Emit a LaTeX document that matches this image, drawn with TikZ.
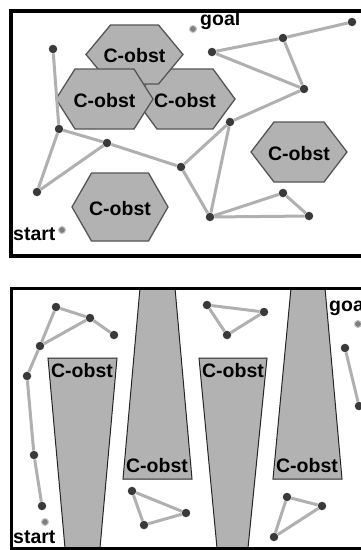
\documentclass[tikz,border=0pt]{standalone}
\usepackage{fontspec}
\setmainfont{Liberation Sans}
\definecolor{obgray}{HTML}{B2B2B2}
\definecolor{obline}{HTML}{555555}
\definecolor{edgegray}{HTML}{B0B0B0}
\definecolor{dotgray}{HTML}{3A3A3A}
\definecolor{sggray}{HTML}{7E7E7E}
\tikzset{
  frame/.style={draw=black, line width=3.5pt},
  obst/.style={fill=obgray, draw=obline, line width=1.3pt, line join=miter},
  trap/.style={fill=obgray, draw=black!85, line width=1pt},
  edge/.style={draw=edgegray, line width=3pt},
  dot/.style={circle, fill=dotgray, inner sep=0pt, minimum size=8.5pt},
  sgdot/.style={circle, fill=sggray, draw=gray!45, line width=1pt, inner sep=0pt, minimum size=7pt},
  lbl/.style={font=\fontsize{19.5}{20}\selectfont\bfseries, inner sep=0pt, text=black},
}
\newcommand{\hexobst}[6]{% cx cy halfw tophalf halfh name
  \draw[obst] (#1-#3,#2) -- (#1-#4,#2-#5) -- (#1+#4,#2-#5) -- (#1+#3,#2) -- (#1+#4,#2+#5) -- (#1-#4,#2+#5) -- cycle;
  \node[lbl, anchor=base] (#6) at (#1,#2+8) {C-obst};
}
\begin{document}
\begin{tikzpicture}[x=1pt, y=-1pt]
\useasboundingbox (0,0) rectangle (361,550);
\clip (0,0) rectangle (361,550);
\fill[white] (0,0) rectangle (361,550);

% ---------- top panel ----------
\hexobst{185}{99}{50}{28}{30}{h3}
\hexobst{134.5}{54.5}{48.5}{24}{29.5}{h1}
\hexobst{104.5}{99}{48.5}{29.5}{30}{h2}
\hexobst{299}{152}{48}{25}{30}{h4}
\hexobst{120}{207}{48}{28.5}{34}{h5}

\node[dot] (A) at (53,49) {};
\node[dot] (B) at (59,129) {};
\node[dot] (C) at (107,143) {};
\node[dot] (D) at (37,192) {};
\node[dot] (E) at (181,167) {};
\node[dot] (F) at (230,122) {};
\node[dot] (G) at (212,52) {};
\node[dot] (H) at (283,38) {};
\node[dot] (I) at (352,22) {};
\node[dot] (J) at (304,89) {};
\node[dot] (K) at (210,217) {};
\node[dot] (L) at (283,193) {};
\node[dot] (M) at (309,216) {};
\node[sgdot] (goal1) at (193,29) {};
\node[sgdot] (start1) at (62,230) {};
\node[lbl, anchor=base west] (goaltxt1) at (200,25) {goal};
\node[lbl, anchor=base west] (starttxt1) at (13,240) {start};

\draw[edge] (A) -- (B) (B) -- (C) (B) -- (D) (D) -- (C) (C) -- (E)
  (E) -- (F) (E) -- (K) (F) -- (K) (F) -- (J) (G) -- (J) (G) -- (H)
  (H) -- (J) (H) -- (I) (K) -- (L) (K) -- (M) (L) -- (M);

% ---------- bottom panel ----------
\draw[trap] (48,358) -- (117,358) -- (100,548) -- (65,548) -- cycle;
\draw[trap] (140,288) -- (175,288) -- (192,479) -- (123,479) -- cycle;
\draw[trap] (199,358) -- (267,358) -- (248,548) -- (217,548) -- cycle;
\draw[trap] (291,288) -- (325,288) -- (342,479) -- (273,479) -- cycle;
\node[lbl, anchor=base] (t1) at (82,377) {C-obst};
\node[lbl, anchor=base] (t2) at (157,472) {C-obst};
\node[lbl, anchor=base] (t3) at (233,377) {C-obst};
\node[lbl, anchor=base] (t4) at (307,472) {C-obst};

\node[dot] (p1) at (56,307) {};
\node[dot] (p2) at (90,318) {};
\node[dot] (p3) at (114,335) {};
\node[dot] (p4) at (40,346) {};
\node[dot] (p5) at (27,376) {};
\node[dot] (p6) at (34,455) {};
\node[dot] (p7) at (42,506) {};
\node[dot] (q1) at (207,305) {};
\node[dot] (q2) at (264,312) {};
\node[dot] (q3) at (227,335) {};
\node[dot] (r1) at (132,491) {};
\node[dot] (r2) at (186,513) {};
\node[dot] (r3) at (144,525) {};
\node[dot] (s1) at (287,497) {};
\node[dot] (s2) at (322,506) {};
\node[dot] (s3) at (274,537) {};
\node[dot] (u1) at (345,348) {};
\node[dot] (u2) at (359,406) {};
\node[sgdot] (goal2) at (358,324) {};
\node[sgdot] (start2) at (45,522) {};
\node[lbl, anchor=base west] (goaltxt2) at (329,311) {goal};
\node[lbl, anchor=base west] (starttxt2) at (13,543) {start};

\draw[edge] (p1) -- (p2) (p2) -- (p3) (p1) -- (p4) (p4) -- (p2) (p4) -- (p5)
  (p5) -- (p6) (p6) -- (p7)
  (q1) -- (q2) (q1) -- (q3) (q3) -- (q2)
  (r1) -- (r2) (r1) -- (r3) (r3) -- (r2)
  (s1) -- (s2) (s1) -- (s3) (s3) -- (s2)
  (u1) -- (u2);

% ---------- frames ----------
\draw[frame] (11,11) rectangle (390,256);
\draw[frame, line width=3pt] (11,288.5) rectangle (390,548.5);
\end{tikzpicture}
\end{document}
